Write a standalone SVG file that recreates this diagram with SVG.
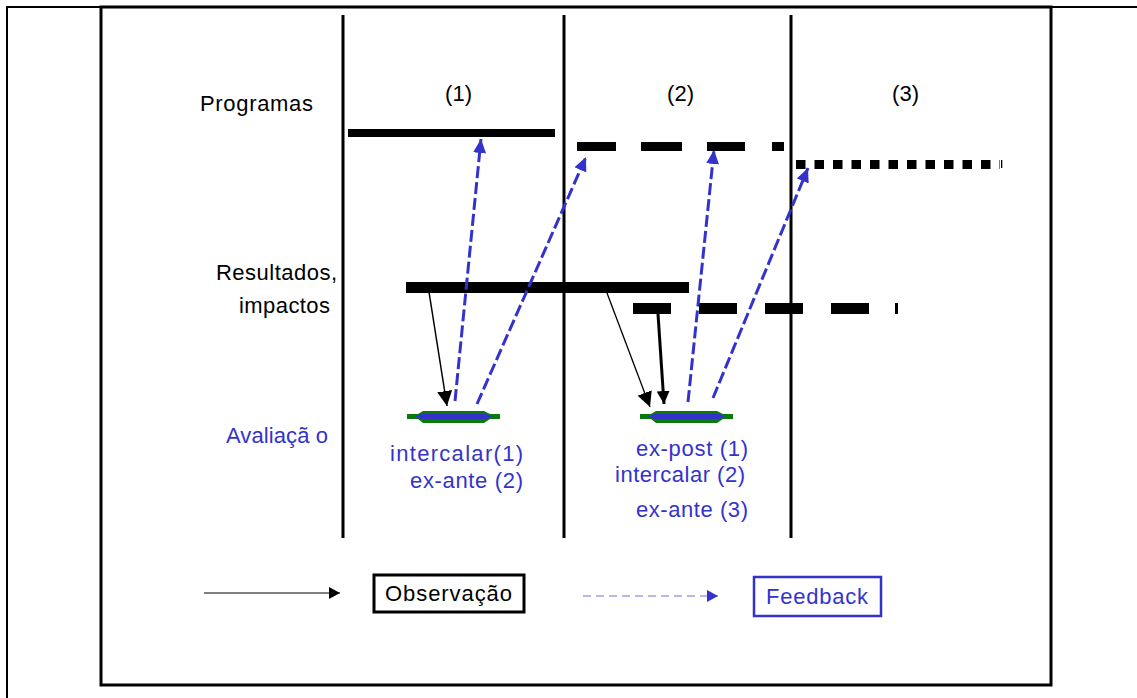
<svg xmlns="http://www.w3.org/2000/svg" width="1137" height="698" viewBox="0 0 1137 698">
  <style>
    text { font-family: "Liberation Sans", Arial, sans-serif; font-size: 22px; }
    .lbl { fill: #000; }
    .blu { fill: #3333cc; }
    .frame { stroke: #000; fill: none; }
    .col { stroke: #000; stroke-width: 3; }
    .bar { fill: #000; }
    .obs { stroke: #000; fill: none; }
    .fb { stroke: #3333cc; fill: none; stroke-width: 3; stroke-dasharray: 12 4; }
  </style>
  <defs>
    <marker id="headBlue" markerUnits="userSpaceOnUse" markerWidth="15" markerHeight="13" refX="14" refY="6.5" orient="auto">
      <path d="M0,0 L14,6.5 L0,13 z" fill="#3333cc"/>
    </marker>
    <marker id="headBlack" markerUnits="userSpaceOnUse" markerWidth="16" markerHeight="15" refX="15" refY="7.5" orient="auto">
      <path d="M0,0 L15,7.5 L0,15 z" fill="#000"/>
    </marker>
    <marker id="headBlackS" markerUnits="userSpaceOnUse" markerWidth="14" markerHeight="13" refX="13" refY="6.5" orient="auto">
      <path d="M0,0 L13,6.5 L0,13 z" fill="#000"/>
    </marker>
    <marker id="headLeg" markerUnits="userSpaceOnUse" markerWidth="12" markerHeight="12" refX="11" refY="6" orient="auto">
      <path d="M0,0 L11,6 L0,12 z" fill="#000"/>
    </marker>
    <marker id="headLegBlue" markerUnits="userSpaceOnUse" markerWidth="12" markerHeight="12" refX="11" refY="6" orient="auto">
      <path d="M0,0 L11,6 L0,12 z" fill="#3333cc"/>
    </marker>
    <!-- evaluation marker: green lens with blue core -->
    <g id="evalMark">
      <polygon points="0,2 11,2 16,-1 77,-1 83,2 93,2 93,7 83,7 77,11 16,11 11,7 0,7" fill="#0a7a0a"/>
      <polygon points="8,4.5 14,2 80,2 85,4.5 80,7 14,7" fill="#3333cc"/>
    </g>
  </defs>

  <rect width="1137" height="698" fill="#fff"/>

  <!-- page frame -->
  <g id="frame">
    <line class="frame" x1="6" y1="7" x2="1137" y2="7" stroke-width="2"/>
    <line class="frame" x1="7" y1="6" x2="7" y2="698" stroke-width="2"/>
    <rect class="frame" x="101" y="7" width="950" height="678" stroke-width="3"/>
  </g>

  <!-- period columns -->
  <g id="columns">
    <line class="col" x1="343" y1="15" x2="343" y2="538"/>
    <line class="col" x1="564" y1="15" x2="564" y2="538"/>
    <line class="col" x1="791" y1="15" x2="791" y2="538"/>
  </g>

  <!-- row labels -->
  <g id="row-labels">
    <text class="lbl" x="200" y="111" textLength="113" lengthAdjust="spacing">Programas</text>
    <text class="lbl" x="216" y="280" textLength="121" lengthAdjust="spacing">Resultados,</text>
    <text class="lbl" x="239" y="313" textLength="91" lengthAdjust="spacing">impactos</text>
    <text class="blu" x="226" y="443" textLength="102" lengthAdjust="spacing">Avaliaçã o</text>
  </g>

  <!-- period headers -->
  <g id="headers">
    <text class="lbl" x="445" y="101" textLength="27" lengthAdjust="spacing">(1)</text>
    <text class="lbl" x="667" y="101" textLength="27" lengthAdjust="spacing">(2)</text>
    <text class="lbl" x="892" y="101" textLength="27" lengthAdjust="spacing">(3)</text>
  </g>

  <!-- programme timelines -->
  <g id="programa-1">
    <rect class="bar" x="348" y="129" width="207" height="8"/>
  </g>
  <g id="programa-2">
    <rect class="bar" x="577" y="142" width="39" height="9"/>
    <rect class="bar" x="641" y="142" width="41" height="9"/>
    <rect class="bar" x="707" y="142" width="38" height="9"/>
    <rect class="bar" x="772" y="142" width="12" height="9"/>
  </g>
  <g id="programa-3">
    <line x1="796" y1="164.5" x2="1000" y2="164.5" stroke="#000" stroke-width="9" stroke-dasharray="9.5 9"/>
    <rect class="bar" x="1001" y="160" width="1.3" height="8"/>
  </g>

  <!-- results / impacts timelines -->
  <g id="resultados-1">
    <rect class="bar" x="406" y="282" width="283" height="11"/>
  </g>
  <g id="resultados-2">
    <rect class="bar" x="633" y="303" width="38" height="11"/>
    <rect class="bar" x="699" y="303" width="38" height="11"/>
    <rect class="bar" x="765" y="303" width="38" height="11"/>
    <rect class="bar" x="831" y="303" width="38" height="11"/>
    <rect class="bar" x="895" y="303" width="3" height="11"/>
  </g>

  <!-- evaluations -->
  <g id="avaliacao-1">
    <use href="#evalMark" x="407" y="412"/>
    <text class="blu" x="390" y="461" textLength="133" lengthAdjust="spacing">intercalar(1)</text>
    <text class="blu" x="410" y="488" textLength="113" lengthAdjust="spacing">ex-ante (2)</text>
  </g>
  <g id="avaliacao-2">
    <use href="#evalMark" x="640" y="412"/>
    <text class="blu" x="636" y="456" textLength="112" lengthAdjust="spacing">ex-post (1)</text>
    <text class="blu" x="615" y="482" textLength="130" lengthAdjust="spacing">intercalar (2)</text>
    <text class="blu" x="636" y="517" textLength="112" lengthAdjust="spacing">ex-ante (3)</text>
  </g>

  <!-- observation and feedback arrows -->
  <g id="connectors">
    <line class="obs" x1="429" y1="292" x2="447" y2="406" stroke-width="1.5" marker-end="url(#headBlack)"/>
    <line class="obs" x1="607" y1="293" x2="650" y2="407" stroke-width="1.3" marker-end="url(#headBlack)"/>
    <line class="obs" x1="658" y1="314" x2="664" y2="404" stroke-width="3" marker-end="url(#headBlackS)"/>

    <line class="fb" x1="455" y1="401" x2="481" y2="139" marker-end="url(#headBlue)"/>
    <line class="fb" x1="477" y1="404" x2="586" y2="157" marker-end="url(#headBlue)"/>
    <line class="fb" x1="688" y1="402" x2="714" y2="150" marker-end="url(#headBlue)"/>
    <line class="fb" x1="713" y1="398" x2="808" y2="168" marker-end="url(#headBlue)"/>
  </g>

  <!-- legend -->
  <g id="legenda-observacao">
    <line x1="204" y1="593" x2="340" y2="593" stroke="#000" stroke-width="1" marker-end="url(#headLeg)"/>
    <rect x="374" y="575" width="150" height="37" fill="#fff" stroke="#000" stroke-width="3"/>
    <text class="lbl" x="385" y="601" textLength="127" lengthAdjust="spacing">Observação</text>
  </g>
  <g id="legenda-feedback">
    <line x1="583" y1="596" x2="718" y2="596" stroke="#3333cc" stroke-opacity="0.7" stroke-width="1" stroke-dasharray="8 5" marker-end="url(#headLegBlue)"/>
    <rect x="754" y="577" width="127" height="39" fill="#fff" stroke="#3333cc" stroke-width="2.5"/>
    <text class="blu" x="766" y="604" textLength="102" lengthAdjust="spacing">Feedback</text>
  </g>
</svg>
